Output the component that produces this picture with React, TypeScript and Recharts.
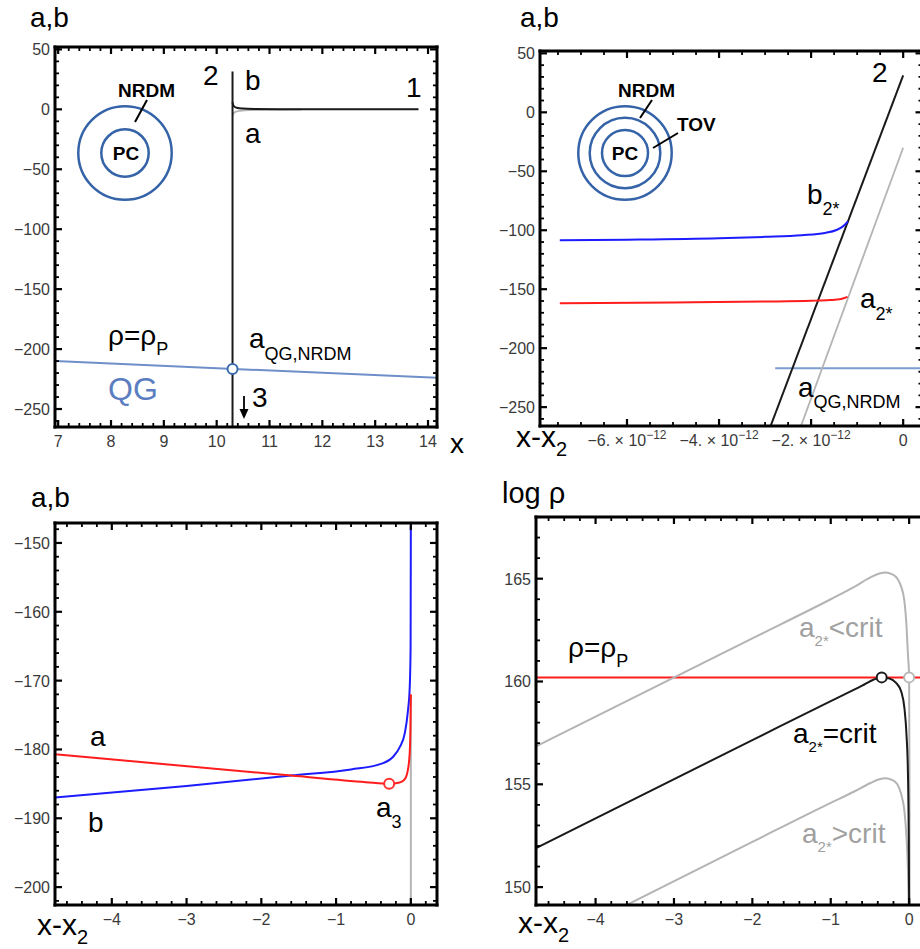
import { LineChart, Line, XAxis, YAxis, ReferenceDot } from "recharts";

const FONT = "'Liberation Sans', Arial, Helvetica, sans-serif";
const TICK_FONT = "'Liberation Sans', Arial, sans-serif";

type Pt = { x: number; y: number };

// ---- panel 1: a,b vs x ----
const p1Line2: Pt[] = [{ x: 10.3, y: 31.5 }, { x: 10.3, y: -265 }];
const p1B: Pt[] = [
  { x: 10.3, y: 6 }, { x: 10.31, y: 4 }, { x: 10.33, y: 2.5 }, { x: 10.38, y: 1.3 },
  { x: 10.5, y: 0.6 }, { x: 10.7, y: 0.25 }, { x: 11.2, y: 0.06 }, { x: 12.5, y: 0 }, { x: 13.82, y: 0 },
];
const p1A: Pt[] = [
  { x: 10.3, y: -5 }, { x: 10.32, y: -3.2 }, { x: 10.36, y: -2 }, { x: 10.45, y: -1.2 },
  { x: 10.65, y: -0.6 }, { x: 11, y: -0.3 }, { x: 11.6, y: -0.1 },
];
const p1QG: Pt[] = [{ x: 6.94, y: -210 }, { x: 14.17, y: -224 }];
const p1Cross: Pt = { x: 10.3, y: -216.7 };
const p1XMajor = [7, 8, 9, 10, 11, 12, 13, 14];
const p1YMajor = [-250, -200, -150, -100, -50, 0, 50];

// ---- panel 2: a,b vs x-x2 (units of 1e-12) ----
const p2Line2: Pt[] = [{ x: -2.88, y: -266 }, { x: 0, y: 31.4 }];
const p2Gray: Pt[] = [{ x: -2.22, y: -266 }, { x: 0, y: -30 }];
const p2B: Pt[] = [
  { x: -7.46, y: -108.5 }, { x: -6, y: -108 }, { x: -4, y: -106.8 }, { x: -3, y: -105.6 },
  { x: -2.2, y: -104.2 }, { x: -1.7, y: -102.3 }, { x: -1.45, y: -99.8 }, { x: -1.3, y: -96.5 },
  { x: -1.2, y: -92.5 },
];
const p2A: Pt[] = [
  { x: -7.46, y: -162 }, { x: -5, y: -161.3 }, { x: -3, y: -160.5 }, { x: -2, y: -159.8 },
  { x: -1.6, y: -159.2 }, { x: -1.35, y: -158.3 }, { x: -1.21, y: -156.5 },
];
const p2QG: Pt[] = [{ x: -2.78, y: -217 }, { x: 0.45, y: -217 }];
const p2XMajor = [-6, -4, -2, 0];
const p2YMajor = [-250, -200, -150, -100, -50, 0, 50];

// ---- panel 3: a,b vs x-x2 ----
const p3A: Pt[] = [
  { x: -4.76, y: -180.7 }, { x: -1.6, y: -183.8 }, { x: -0.6, y: -184.75 }, { x: -0.29, y: -185 },
  { x: -0.15, y: -184.8 }, { x: -0.08, y: -184.3 }, { x: -0.04, y: -183 }, { x: -0.015, y: -180.5 },
  { x: -0.004, y: -176 }, { x: 0, y: -172 },
];
const p3B: Pt[] = [
  { x: -4.76, y: -187 }, { x: -3, y: -185.3 }, { x: -1.6, y: -183.8 }, { x: -0.8, y: -182.9 },
  { x: -0.4, y: -182.1 }, { x: -0.24, y: -181.1 }, { x: -0.15, y: -179.7 }, { x: -0.08, y: -177.6 },
  { x: -0.04, y: -174.5 }, { x: -0.015, y: -171 }, { x: -0.003, y: -165 }, { x: 0, y: -147.5 },
];
const p3Gray: Pt[] = [{ x: 0, y: -172 }, { x: 0, y: -203 }];
const p3A3: Pt = { x: -0.29, y: -185 };
const p3XMajor = [-4, -3, -2, -1, 0];
const p3YMajor = [-200, -190, -180, -170, -160, -150];

// ---- panel 4: log rho vs x-x2 ----
const p4Planck: Pt[] = [{ x: -4.76, y: 160.2 }, { x: 0.4, y: 160.2 }];
const p4Crit: Pt[] = [
  { x: -4.76, y: 151.9 }, { x: -2, y: 157.15 }, { x: -1, y: 159.05 }, { x: -0.6, y: 159.8 },
  { x: -0.45, y: 160.1 }, { x: -0.35, y: 160.2 }, { x: -0.25, y: 160.15 }, { x: -0.17, y: 159.95 },
  { x: -0.1, y: 159.5 }, { x: -0.06, y: 158.7 }, { x: -0.035, y: 157.5 }, { x: -0.015, y: 155.5 },
  { x: -0.005, y: 152.5 }, { x: 0, y: 149 },
];
const p4Below: Pt[] = [
  { x: -4.76, y: 156.85 }, { x: -2, y: 162.1 }, { x: -1, y: 164 }, { x: -0.7, y: 164.6 },
  { x: -0.5, y: 165.05 }, { x: -0.38, y: 165.25 }, { x: -0.3, y: 165.3 }, { x: -0.22, y: 165.22 },
  { x: -0.15, y: 165.0 }, { x: -0.1, y: 164.6 }, { x: -0.06, y: 163.9 }, { x: -0.035, y: 162.8 },
  { x: -0.015, y: 161.3 }, { x: 0, y: 160.2 }, { x: 0.004, y: 155 }, { x: 0.006, y: 149 },
];
const p4Above: Pt[] = [
  { x: -3.62, y: 149.1 }, { x: -2, y: 152.2 }, { x: -1, y: 154.1 }, { x: -0.7, y: 154.65 },
  { x: -0.5, y: 155.05 }, { x: -0.38, y: 155.25 }, { x: -0.3, y: 155.3 }, { x: -0.22, y: 155.22 },
  { x: -0.15, y: 155.0 }, { x: -0.1, y: 154.5 }, { x: -0.06, y: 153.7 }, { x: -0.035, y: 152.5 },
  { x: -0.015, y: 150.8 }, { x: -0.005, y: 149 },
];
const p4CritDot: Pt = { x: -0.35, y: 160.2 };
const p4BelowDot: Pt = { x: 0, y: 160.2 };
const p4XMajor = [-4, -3, -2, -1, 0];
const p4YMajor = [150, 155, 160, 165];

const BLACK = "#1a1a1a";
const GRAY = "#b4b4b4";
const RED = "#ff1c1c";
const BLUE = "#1c1cff";
const QG_BLUE = "#6f8fc9";
const RING = "#3563a8";

function steps(from: number, to: number, step: number) {
  const out: number[] = [];
  const n = Math.round((to - from) / step);
  for (let i = 0; i <= n; i++) out.push(+(from + i * step).toFixed(6));
  return out;
}

const minus = (v: number) => (v < 0 ? "\u2212" + Math.abs(v) : String(v));

function FrameTick(props: any) {
  const { x, y, payload, side, majors, fmt } = props;
  const v = payload.value;
  const major = majors.some((m: number) => Math.abs(m - v) < 1e-6);
  const len = major ? 7 : 4;
  const sw = major ? 2.2 : 1.8;
  let line;
  if (side === "bottom") line = <line x1={x} y1={y} x2={x} y2={y - len} stroke="#000" strokeWidth={sw} />;
  else if (side === "top") line = <line x1={x} y1={y} x2={x} y2={y + len} stroke="#000" strokeWidth={sw} />;
  else if (side === "left") line = <line x1={x} y1={y} x2={x + len} y2={y} stroke="#000" strokeWidth={sw} />;
  else line = <line x1={x} y1={y} x2={x - len} y2={y} stroke="#000" strokeWidth={sw} />;
  return (
    <g>
      {line}
      {major && side === "bottom" && fmt && (
        <text x={x} y={y + 20} textAnchor="middle" fill="#3a3a3a" fontSize={16} fontFamily={TICK_FONT}>
          {fmt(v)}
        </text>
      )}
      {major && side === "left" && fmt && (
        <text x={x - 5} y={y + 6} textAnchor="end" fill="#3a3a3a" fontSize={16} fontFamily={TICK_FONT}>
          {fmt(v)}
        </text>
      )}
    </g>
  );
}

const sciFmt = (v: number) =>
  v === 0 ? "0" : (
    <>
      <tspan>{minus(v) + ". \u00d7 10"}</tspan>
      <tspan dy={-7} fontSize={12}>{"\u221212"}</tspan>
    </>
  );

interface Series { data: Pt[]; color: string; width?: number; curve?: "linear" | "monotone" }
interface Dot { p: Pt; color: string }

interface PanelProps {
  box: [number, number, number, number];
  plot: [number, number, number, number];
  xDomain: [number, number];
  yDomain: [number, number];
  xMajor: number[];
  xMinor: number;
  yMajor: number[];
  yMinor: number;
  xFmt: (v: number) => any;
  yFmt: (v: number) => any;
  series: Series[];
  dots: Dot[];
}

function Panel({ box, plot, xDomain, yDomain, xMajor, xMinor, yMajor, yMinor, xFmt, yFmt, series, dots }: PanelProps) {
  const [bx, by, bw, bh] = box;
  const [pl, pt, pr, pb] = plot;
  const xTicks = steps(Math.ceil(xDomain[0] / xMinor) * xMinor, Math.floor(xDomain[1] / xMinor) * xMinor, xMinor);
  const yTicks = steps(Math.ceil(yDomain[0] / yMinor) * yMinor, Math.floor(yDomain[1] / yMinor) * yMinor, yMinor);
  const axisLine = { stroke: "#000", strokeWidth: 3, strokeLinecap: "square" as const };
  const common = {
    allowDataOverflow: true, interval: 0 as const, tickSize: 0, tickMargin: 0, tickLine: false,
    axisLine, stroke: "#000", strokeWidth: 3, type: "number" as const,
  };
  // top and right axes need a non-zero size to be drawn
  return (
    <div style={{ position: "absolute", left: bx, top: by }}>
      <LineChart width={bw} height={bh} margin={{ top: pt - by - 1, right: bx + bw - pr - 1, bottom: 0, left: 0 }}>
        <XAxis xAxisId="b" orientation="bottom" dataKey="x" domain={xDomain} ticks={xTicks} height={by + bh - pb}
          {...common} tick={(p: any) => <FrameTick {...p} side="bottom" majors={xMajor} fmt={xFmt} />} />
        <XAxis xAxisId="t" orientation="top" dataKey="x" domain={xDomain} ticks={xTicks} height={1}
          {...common} tick={(p: any) => <FrameTick {...p} side="top" majors={xMajor} />} />
        <YAxis yAxisId="l" orientation="left" dataKey="y" domain={yDomain} ticks={yTicks} width={pl - bx}
          {...common} tick={(p: any) => <FrameTick {...p} side="left" majors={yMajor} fmt={yFmt} />} />
        <YAxis yAxisId="r" orientation="right" dataKey="y" domain={yDomain} ticks={yTicks} width={1}
          {...common} tick={(p: any) => <FrameTick {...p} side="right" majors={yMajor} />} />
        {series.map((s, i) => (
          <Line key={i} xAxisId="b" yAxisId="l" data={s.data} dataKey="y" type={s.curve ?? "linear"}
            stroke={s.color} strokeWidth={s.width ?? 2} dot={false} activeDot={false} isAnimationActive={false} />
        ))}
        {dots.map((d, i) => (
          <ReferenceDot key={"d" + i} xAxisId="b" yAxisId="l" x={d.p.x} y={d.p.y} r={5}
            fill="#fff" stroke={d.color} strokeWidth={2} />
        ))}
      </LineChart>
    </div>
  );
}

function T({ x, y, s = 28, c = "#000", b, sub, subS = 18, dy = 10, rest, w }: any) {
  return (
    <text x={x} y={y} fontSize={s} fill={c} fontFamily={FONT} fontWeight={w}>
      <tspan>{b}</tspan>
      {sub && <tspan dy={dy} fontSize={subS}>{sub}</tspan>}
      {rest && <tspan dy={-dy}>{rest}</tspan>}
    </text>
  );
}

function Rings({ cx, cy, radii }: { cx: number; cy: number; radii: number[] }) {
  return (
    <g fill="none" stroke={RING} strokeWidth={2.5}>
      {radii.map((r) => <circle key={r} cx={cx} cy={cy} r={r} />)}
    </g>
  );
}

function Overlay() {
  return (
    <svg width={920} height={949} style={{ position: "absolute", left: 0, top: 0, pointerEvents: "none" }}>
      {/* panel 1 */}
      <T x={30} y={27} b="a,b" />
      <T x={203} y={85} b="2" />
      <T x={245} y={90} b="b" />
      <T x={406} y={97} b="1" />
      <T x={245} y={143} b="a" />
      <T x={108} y={345} b="ρ=ρ" sub="P" />
      <T x={249} y={348} b="a" sub="QG,NRDM" dy={12} />
      <T x={108} y={400} s={32} c="#5b7ec0" b="QG" />
      <T x={252} y={407} b="3" />
      <line x1={244} y1={396} x2={244} y2={411} stroke="#000" strokeWidth={1.8} />
      <polygon points="239.5,409 248.5,409 244,419" fill="#000" />
      <T x={450} y={453} b="x" />
      <Rings cx={125} cy={153} radii={[46.7, 23.7]} />
      <T x={118} y={97} s={19} w="bold" b="NRDM" />
      <text x={126} y={160} textAnchor="middle" fontSize={19} fontWeight="bold" fontFamily={FONT}>PC</text>
      <line x1={135} y1={122} x2={147} y2={100} stroke="#000" strokeWidth={2} />

      {/* panel 2 */}
      <T x={520} y={27} b="a,b" />
      <T x={872} y={82} b="2" />
      <T x={807} y={204} b="b" sub="2*" dy={11} />
      <T x={860} y={308} b="a" sub="2*" dy={12} />
      <T x={798} y={397} b="a" sub="QG,NRDM" dy={11} />
      <Rings cx={625} cy={153} radii={[46.7, 35.3, 23]} />
      <T x={618} y={97} s={19} w="bold" b="NRDM" />
      <T x={677} y={131} s={19} w="bold" b="TOV" />
      <text x={625} y={160} textAnchor="middle" fontSize={19} fontWeight="bold" fontFamily={FONT}>PC</text>
      <line x1={640} y1={118} x2={652} y2={100} stroke="#000" strokeWidth={2} />
      <line x1={653} y1={148} x2={678} y2={133} stroke="#000" strokeWidth={2} />
      <T x={516} y={447} s={30} b="x-x" sub="2" dy={9} subS={20} />

      {/* panel 3 */}
      <T x={31} y={507} b="a,b" />
      <T x={90} y={746} b="a" />
      <T x={88} y={832} b="b" />
      <T x={376} y={817} b="a" sub="3" dy={11} />
      <T x={37} y={935} s={30} b="x-x" sub="2" dy={9} subS={20} />

      {/* panel 4 */}
      <T x={502} y={503} s={29} b="log ρ" />
      <T x={568} y={657} b="ρ=ρ" sub="P" />
      <T x={799} y={637} c="#a0a0a0" b="a" sub="2*" subS={15} dy={9} rest="<crit" />
      <T x={793} y={743} b="a" sub="2*" subS={15} dy={9} rest="=crit" />
      <T x={802} y={843} c="#a0a0a0" b="a" sub="2*" subS={15} dy={9} rest=">crit" />
      <T x={518} y={933} s={30} b="x-x" sub="2" dy={9} subS={20} />
    </svg>
  );
}

export default function App() {
  return (
    <div style={{ position: "absolute", left: 0, top: 0, width: 920, height: 949, overflow: "hidden", background: "#fff" }}>
      <Panel
        box={[0, 0, 460, 470]} plot={[55, 47, 437, 427]}
        xDomain={[6.94, 14.17]} yDomain={[-265, 52]}
        xMajor={p1XMajor} xMinor={0.2} yMajor={p1YMajor} yMinor={10}
        xFmt={(v) => String(v)} yFmt={minus}
        series={[
          { data: p1QG, color: QG_BLUE, width: 2 },
          { data: p1A, color: GRAY, width: 2, curve: "monotone" },
          { data: p1Line2, color: BLACK, width: 2 },
          { data: p1B, color: BLACK, width: 2, curve: "monotone" },
        ]}
        dots={[{ p: p1Cross, color: "#3a6aaa" }]}
      />
      <Panel
        box={[460, 0, 470, 470]} plot={[540, 51, 922.5, 426]}
        xDomain={[-7.89, 0.42]} yDomain={[-266, 52]}
        xMajor={p2XMajor} xMinor={0.5} yMajor={p2YMajor} yMinor={10}
        xFmt={sciFmt} yFmt={minus}
        series={[
          { data: p2QG, color: "#7d9ccf", width: 2 },
          { data: p2Gray, color: GRAY, width: 1.8 },
          { data: p2Line2, color: BLACK, width: 2 },
          { data: p2B, color: BLUE, width: 2, curve: "monotone" },
          { data: p2A, color: RED, width: 2, curve: "monotone" },
        ]}
        dots={[]}
      />
      <Panel
        box={[0, 470, 460, 479]} plot={[55, 523, 437, 905]}
        xDomain={[-4.76, 0.35]} yDomain={[-202.6, -147.1]}
        xMajor={p3XMajor} xMinor={0.2} yMajor={p3YMajor} yMinor={2}
        xFmt={minus} yFmt={minus}
        series={[
          { data: p3Gray, color: GRAY, width: 2 },
          { data: p3B, color: BLUE, width: 2, curve: "monotone" },
          { data: p3A, color: RED, width: 2, curve: "monotone" },
        ]}
        dots={[{ p: p3A3, color: "#ff3030" }]}
      />
      <Panel
        box={[460, 470, 480, 479]} plot={[536, 517, 935, 905]}
        xDomain={[-4.76, 0.33]} yDomain={[149.13, 168]}
        xMajor={p4XMajor} xMinor={0.2} yMajor={p4YMajor} yMinor={1}
        xFmt={minus} yFmt={(v) => String(v)}
        series={[
          { data: p4Planck, color: RED, width: 2 },
          { data: p4Below, color: GRAY, width: 2, curve: "monotone" },
          { data: p4Above, color: GRAY, width: 2, curve: "monotone" },
          { data: p4Crit, color: BLACK, width: 2, curve: "monotone" },
        ]}
        dots={[{ p: p4CritDot, color: BLACK }, { p: p4BelowDot, color: "#b8b8b8" }]}
      />
      <Overlay />
    </div>
  );
}
